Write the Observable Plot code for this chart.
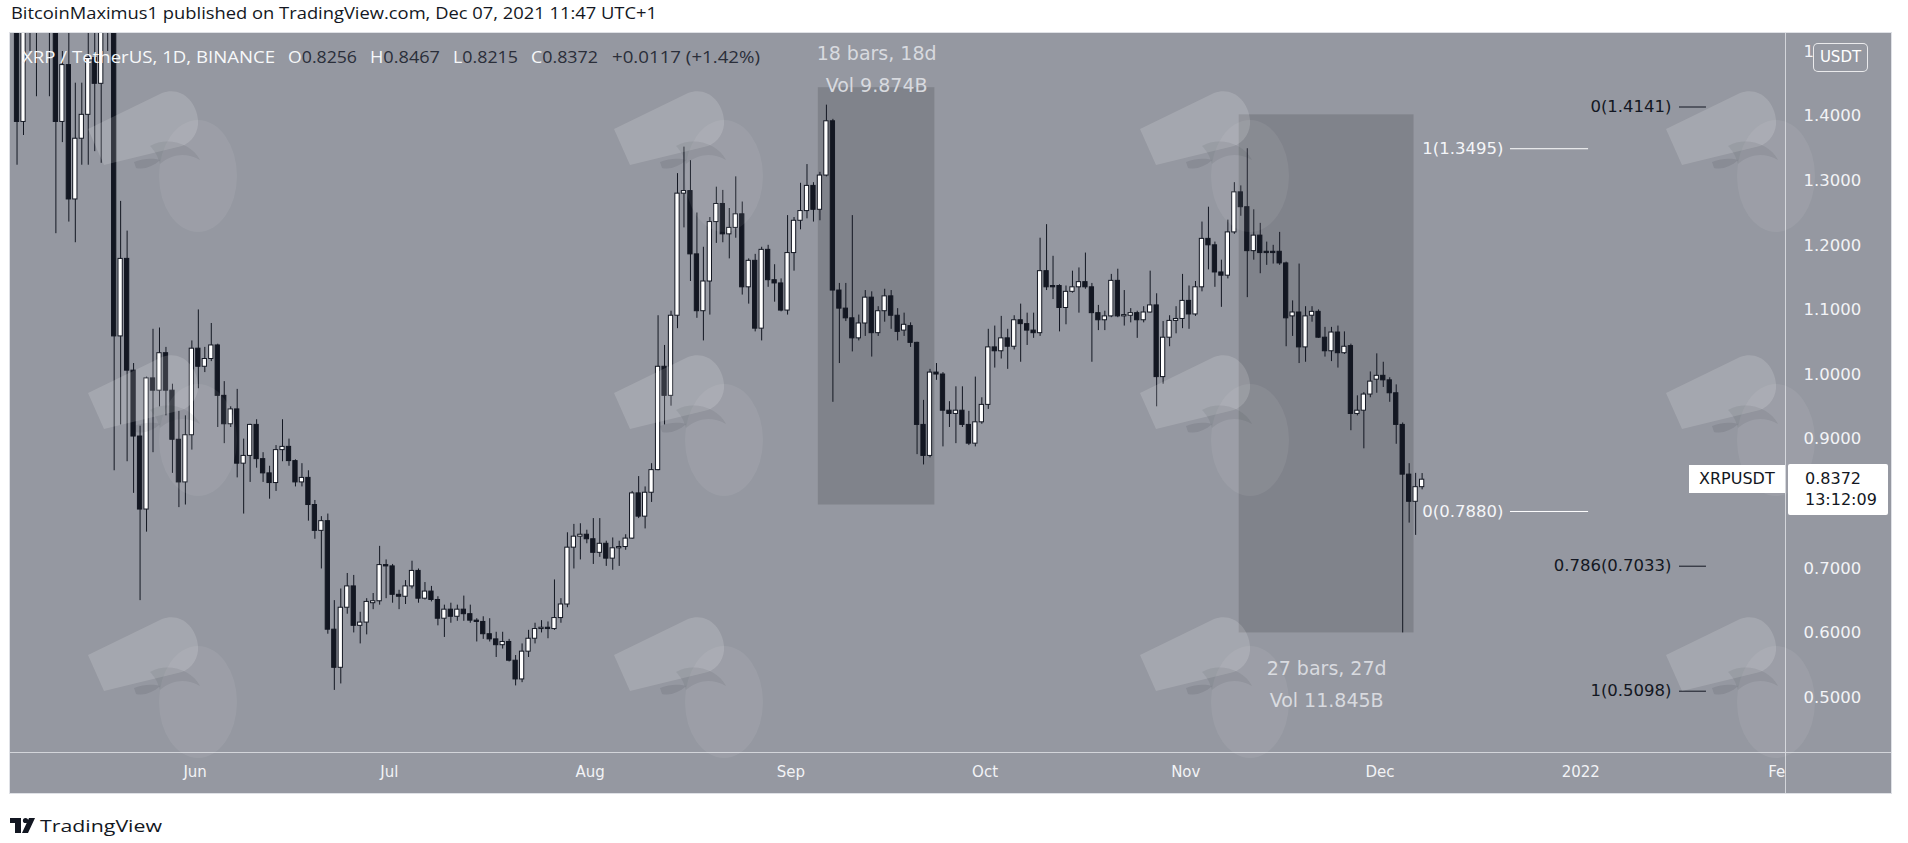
<!DOCTYPE html>
<html>
<head>
<meta charset="utf-8">
<script src="https://cdn.jsdelivr.net/npm/d3@7"></script>
<script src="https://cdn.jsdelivr.net/npm/@observablehq/plot@0.6"></script>
<style>
html,body{margin:0;padding:0;background:#fff;}
body{width:1908px;height:843px;position:relative;overflow:hidden;}
#panel{position:absolute;left:10px;top:33px;width:1881px;height:760px;background:#9598a1;box-shadow:0 0 0 1px #dfe1e6;overflow:hidden;}
#panel > svg{position:absolute;left:0;top:0;}
.tag{position:absolute;background:#fff;color:#131722;font-family:"DejaVu Sans",sans-serif;font-size:16px;box-sizing:border-box;white-space:nowrap;}
#usdt{position:absolute;left:1803px;top:10px;width:55px;height:29px;box-sizing:border-box;border:1px solid rgba(255,255,255,0.8);border-radius:5px;background:#9598a1;color:#fff;font-family:"DejaVu Sans",sans-serif;font-size:15px;line-height:27px;text-align:center;}
</style>
</head>
<body>
<svg id="head" width="1908" height="33" style="position:absolute;left:0;top:0">
  <text x="11" y="18.5" textLength="646" lengthAdjust="spacingAndGlyphs" font-family="Open Sans" font-size="15.5" fill="#131722">BitcoinMaximus1 published on TradingView.com, Dec 07, 2021 11:47 UTC+1</text>
</svg>
<div id="panel"></div>
<svg id="foot" width="200" height="40" style="position:absolute;left:0;top:805px">
  <rect x="10" y="13" width="11" height="5" fill="#131722"/>
  <rect x="15" y="13" width="6" height="15" fill="#131722"/>
  <circle cx="25.5" cy="15.5" r="2.6" fill="#131722"/>
  <path d="M29,13 L35,13 L28,28 L22,28 Z" fill="#131722"/>
  <text x="40" y="26.5" textLength="122" lengthAdjust="spacingAndGlyphs" font-family="Open Sans" font-size="17" fill="#131722">TradingView</text>
</svg>
<script>
// ---- Data: daily OHLC [open, high, low, close] for XRP/USDT, one array per month ----
const mayStart = "2021-05-03";
const may = [
 [1.56,1.63,1.53,1.60],[1.60,1.62,1.324,1.391],[1.391,1.66,1.37,1.61],[1.61,1.72,1.50,1.65],
 [1.65,1.69,1.43,1.56],[1.56,1.64,1.53,1.60],[1.60,1.63,1.43,1.58],[1.58,1.62,1.218,1.391],
 [1.391,1.50,1.359,1.479],[1.479,1.53,1.236,1.271],[1.271,1.451,1.204,1.365],[1.365,1.451,1.324,1.402],
 [1.402,1.53,1.324,1.490],[1.490,1.53,1.345,1.450],[1.450,1.56,1.327,1.540],[1.540,1.60,1.50,1.560],
 [1.560,1.58,0.851,1.059],[1.059,1.268,0.922,1.179],[1.179,1.222,0.865,1.006],[1.006,1.017,0.816,0.904],
 [0.904,0.920,0.650,0.791],[0.791,0.996,0.756,0.994],[0.994,1.070,0.879,0.975],[0.975,1.072,0.950,1.033],
 [1.033,1.042,0.936,0.975],[0.975,0.985,0.847,0.899],[0.899,0.943,0.794,0.833],[0.833,0.936,0.798,0.906],
 [0.906,1.052,0.883,1.040]
];
const jun = [
 [1.040,1.100,0.978,1.012],[1.012,1.042,1.003,1.024],[1.024,1.079,1.020,1.045],[1.045,1.047,0.918,0.967],
 [0.967,0.989,0.893,0.923],[0.923,0.950,0.918,0.946],[0.946,0.977,0.840,0.862],[0.862,0.900,0.784,0.874],
 [0.874,0.923,0.833,0.922],[0.922,0.930,0.855,0.869],[0.869,0.879,0.833,0.847],[0.847,0.858,0.807,0.832],
 [0.832,0.890,0.819,0.883],[0.883,0.930,0.865,0.888],[0.888,0.900,0.858,0.866],[0.866,0.868,0.826,0.833],
 [0.833,0.862,0.826,0.840],[0.840,0.851,0.773,0.798],[0.798,0.805,0.745,0.758],[0.758,0.780,0.699,0.773],
 [0.773,0.784,0.598,0.605],[0.605,0.650,0.511,0.546],[0.546,0.668,0.521,0.639],[0.639,0.692,0.629,0.672],
 [0.672,0.689,0.600,0.611],[0.611,0.632,0.583,0.616],[0.616,0.653,0.597,0.648],[0.646,0.661,0.636,0.649],
 [0.649,0.734,0.643,0.705],[0.705,0.713,0.653,0.703]
];
const jul = [
 [0.703,0.706,0.646,0.659],[0.659,0.666,0.636,0.656],[0.656,0.681,0.644,0.672],[0.672,0.711,0.668,0.696],
 [0.696,0.699,0.646,0.653],[0.653,0.678,0.651,0.664],[0.664,0.672,0.648,0.651],[0.651,0.656,0.611,0.622],
 [0.622,0.643,0.593,0.636],[0.636,0.646,0.615,0.625],[0.625,0.643,0.618,0.636],[0.636,0.657,0.618,0.629],
 [0.629,0.643,0.615,0.619],[0.619,0.622,0.586,0.617],[0.617,0.625,0.590,0.598],[0.598,0.622,0.586,0.590],
 [0.590,0.601,0.562,0.581],[0.581,0.601,0.575,0.586],[0.586,0.590,0.555,0.557],[0.557,0.565,0.518,0.528],
 [0.528,0.583,0.523,0.571],[0.571,0.604,0.562,0.591],[0.591,0.615,0.583,0.606],[0.606,0.619,0.600,0.608],
 [0.608,0.617,0.591,0.606],[0.606,0.682,0.604,0.623],[0.623,0.653,0.615,0.644],[0.644,0.755,0.639,0.732],
 [0.732,0.768,0.699,0.749],[0.749,0.769,0.713,0.752],[0.752,0.759,0.738,0.745]
];
const aug = [
 [0.745,0.777,0.706,0.724],[0.724,0.777,0.717,0.738],[0.738,0.742,0.703,0.715],[0.715,0.747,0.697,0.731],
 [0.731,0.742,0.703,0.733],[0.733,0.752,0.728,0.746],[0.746,0.819,0.745,0.816],[0.816,0.842,0.777,0.780],
 [0.780,0.826,0.761,0.817],[0.817,0.862,0.802,0.852],[0.852,1.091,0.851,1.012],[1.012,1.045,0.922,0.967],
 [0.967,1.098,0.951,1.091],[1.091,1.311,1.071,1.280],[1.280,1.352,1.227,1.284],[1.284,1.331,1.144,1.186],
 [1.186,1.250,1.087,1.098],[1.098,1.197,1.052,1.144],[1.144,1.243,1.092,1.236],[1.236,1.290,1.203,1.264],
 [1.264,1.285,1.204,1.217],[1.217,1.257,1.179,1.227],[1.227,1.306,1.211,1.248],[1.248,1.267,1.123,1.135],
 [1.135,1.179,1.109,1.176],[1.176,1.186,1.066,1.071],[1.071,1.197,1.052,1.193],[1.193,1.200,1.135,1.146],
 [1.146,1.170,1.112,1.141],[1.141,1.148,1.097,1.099],[1.099,1.246,1.092,1.188]
];
const sep = [
 [1.188,1.243,1.160,1.238],[1.238,1.296,1.224,1.253],[1.253,1.325,1.241,1.292],[1.292,1.297,1.236,1.255],
 [1.255,1.313,1.238,1.308],[1.308,1.417,1.306,1.392],[1.392,1.395,0.957,1.130],[1.130,1.141,1.017,1.102],
 [1.102,1.141,1.082,1.087],[1.087,1.246,1.035,1.056],[1.056,1.092,1.052,1.079],[1.079,1.130,1.059,1.119],
 [1.119,1.128,1.027,1.064],[1.064,1.105,1.059,1.098],[1.098,1.132,1.081,1.121],[1.121,1.130,1.070,1.091],
 [1.091,1.102,1.052,1.066],[1.068,1.095,1.059,1.077],[1.075,1.080,1.042,1.049],[1.049,1.050,0.876,0.922],
 [0.922,0.960,0.860,0.874],[0.874,1.008,0.871,1.003],[1.003,1.017,0.991,1.000],[1.000,1.003,0.888,0.944],
 [0.944,0.958,0.918,0.939],[0.939,0.981,0.893,0.944],[0.944,0.981,0.918,0.922],[0.922,0.943,0.890,0.893],
 [0.893,0.996,0.888,0.926],[0.926,0.964,0.923,0.953]
];
const oct = [
 [0.953,1.070,0.946,1.042],[1.042,1.075,1.010,1.036],[1.036,1.090,1.024,1.056],[1.056,1.070,1.008,1.043],
 [1.043,1.091,1.038,1.084],[1.084,1.109,1.019,1.078],[1.078,1.095,1.045,1.068],[1.068,1.095,1.056,1.064],
 [1.064,1.211,1.059,1.160],[1.160,1.232,1.130,1.135],[1.137,1.183,1.116,1.135],[1.137,1.139,1.066,1.103],
 [1.103,1.137,1.077,1.128],[1.128,1.160,1.126,1.135],[1.135,1.165,1.095,1.143],[1.143,1.188,1.132,1.135],
 [1.135,1.141,1.019,1.095],[1.095,1.107,1.068,1.084],[1.084,1.098,1.068,1.090],[1.090,1.155,1.088,1.145],
 [1.145,1.163,1.088,1.090],[1.090,1.130,1.075,1.092],[1.091,1.102,1.080,1.095],[1.095,1.098,1.056,1.084],
 [1.084,1.105,1.080,1.096],[1.096,1.160,1.095,1.107],[1.107,1.125,0.950,0.996],[0.996,1.082,0.985,1.057],
 [1.057,1.091,1.043,1.083],[1.083,1.105,1.063,1.086],[1.086,1.155,1.071,1.114]
];
const nov = [
 [1.114,1.137,1.070,1.093],[1.093,1.144,1.090,1.135],[1.135,1.236,1.128,1.210],[1.210,1.259,1.162,1.200],
 [1.200,1.205,1.135,1.158],[1.158,1.177,1.104,1.153],[1.153,1.239,1.148,1.220],[1.220,1.297,1.217,1.282],
 [1.282,1.292,1.245,1.259],[1.259,1.3495,1.119,1.191],[1.191,1.255,1.177,1.215],[1.215,1.234,1.156,1.188],
 [1.190,1.205,1.169,1.188],[1.190,1.200,1.171,1.188],[1.190,1.220,1.169,1.172],[1.172,1.174,1.043,1.087],
 [1.090,1.114,1.059,1.096],[1.096,1.171,1.017,1.042],[1.042,1.105,1.019,1.090],[1.091,1.105,1.081,1.097],
 [1.097,1.100,1.056,1.057],[1.057,1.073,1.027,1.036],[1.036,1.073,1.020,1.065],[1.065,1.075,1.010,1.033],
 [1.033,1.066,1.031,1.043],[1.044,1.047,0.913,0.939],[0.939,0.967,0.936,0.944],[0.944,0.972,0.885,0.969],
 [0.969,1.004,0.964,0.989],[0.992,1.032,0.971,0.998]
];
const dec = [
 [0.998,1.019,0.980,0.991],[0.991,0.995,0.957,0.971],[0.971,0.984,0.892,0.922],[0.922,0.925,0.600,0.845],
 [0.845,0.862,0.770,0.803],[0.803,0.847,0.751,0.8256],[0.8256,0.8467,0.8215,0.8372]
];
const monthBlocks = [
 [mayStart, may], ["2021-06-01", jun], ["2021-07-01", jul], ["2021-08-01", aug],
 ["2021-09-01", sep], ["2021-10-01", oct], ["2021-11-01", nov], ["2021-12-01", dec]
];

// Date-range measurement boxes
const ranges = [
 {start: "2021-09-05T06:00Z", end: "2021-09-23T06:00Z", top: 1.444, bottom: 0.798, bars: "18 bars, 18d", vol: "Vol 9.874B", side: "top"},
 {start: "2021-11-09T06:00Z", end: "2021-12-06T06:00Z", top: 1.402, bottom: 0.600, bars: "27 bars, 27d", vol: "Vol 11.845B", side: "bottom"}
];
// Fibonacci retracement tools
const fibWhite = [
 {start: "2021-12-21T03:30Z", end: "2022-01-02T05:00Z", price: 1.3495, label: "1(1.3495)"},
 {start: "2021-12-21T03:30Z", end: "2022-01-02T05:00Z", price: 0.7880, label: "0(0.7880)"}
];
const fibBlack = [
 {start: "2022-01-16T06:00Z", end: "2022-01-20T10:00Z", price: 1.4141, label: "0(1.4141)"},
 {start: "2022-01-16T06:00Z", end: "2022-01-20T10:00Z", price: 0.7033, label: "0.786(0.7033)"},
 {start: "2022-01-16T06:00Z", end: "2022-01-20T10:00Z", price: 0.5098, label: "1(0.5098)"}
];
const monthTicks = ["2021-06-01","2021-07-01","2021-08-01","2021-09-01","2021-10-01","2021-11-01","2021-12-01","2022-01-01","2022-02-01"];
// 0.8000 is hidden behind the last-price tag in the reference
const priceTicks = [0.5,0.6,0.7,0.9,1.0,1.1,1.2,1.3,1.4,1.5];
const xDomain = ["2021-05-03T11:46Z", "2022-02-01T14:53Z"];
const yDomain = [0.4149, 1.5279];
const legend = {symbol: "XRP / TetherUS, 1D, BINANCE", O: "0.8256", H: "0.8467", L: "0.8215", C: "0.8372", change: "+0.0117 (+1.42%)"};
const lastTime = "13:12:09";

// ---- build candle table ----
const candles = monthBlocks.flatMap(([start, rows]) => rows.map((r, i) => {
  const date = d3.utcDay.offset(new Date(start + "T00:00Z"), i);
  return {date, next: d3.utcDay.offset(date, 1), mid: d3.utcHour.offset(date, 12),
          open: r[0], high: r[1], low: r[2], close: r[3]};
}));
const P = s => new Date(s);
const rangeRows = ranges.map(d => ({...d, start: P(d.start), end: P(d.end), mid: new Date((+P(d.start) + +P(d.end)) / 2)}));
const fibW = fibWhite.map(d => ({...d, start: P(d.start), end: P(d.end)}));
const fibB = fibBlack.map(d => ({...d, start: P(d.start), end: P(d.end)}));

const W = 1881, H = 760;
const dark = "#131722";
const chart = Plot.plot({
  width: W, height: H,
  marginLeft: 0, marginRight: 106, marginTop: 0, marginBottom: 41,
  style: {background: "transparent", fontFamily: "DejaVu Sans", fontSize: "16px", color: "#f2f3f6", overflow: "visible"},
  x: {type: "utc", domain: xDomain.map(P), ticks: monthTicks.map(s => P(s + "T00:00Z")),
      tickFormat: d => d.getUTCMonth() === 0 ? String(d.getUTCFullYear()) : d3.utcFormat("%b")(d),
      tickSize: 0, tickPadding: 14, label: null},
  y: {domain: yDomain, axis: "right", ticks: priceTicks, tickFormat: d => d.toFixed(4),
      tickSize: 0, tickPadding: 18, label: null},
  marks: [
    Plot.rect(rangeRows, {x1: "start", x2: "end", y1: "bottom", y2: "top", fill: "#80838b"}),
    Plot.ruleX(candles, {x: "mid", y1: "low", y2: "high", stroke: dark, strokeWidth: 1, clip: true}),
    Plot.rect(candles, {x1: "date", x2: "next", y1: "open", y2: "close", insetLeft: 1.1, insetRight: 1.1,
      fill: d => d.close >= d.open ? "#ffffff" : dark, stroke: dark, strokeWidth: 1, clip: true}),
    Plot.text(rangeRows.filter(d => d.side === "top"), {x: "mid", y: "top", text: "bars", dy: -34, fill: "#d8dadf", fontSize: 19}),
    Plot.text(rangeRows.filter(d => d.side === "top"), {x: "mid", y: "top", text: "vol", dy: -2, fill: "#d8dadf", fontSize: 19}),
    Plot.text(rangeRows.filter(d => d.side === "bottom"), {x: "mid", y: "bottom", text: "bars", dy: 36, fill: "#d8dadf", fontSize: 19}),
    Plot.text(rangeRows.filter(d => d.side === "bottom"), {x: "mid", y: "bottom", text: "vol", dy: 68, fill: "#d8dadf", fontSize: 19}),
    Plot.ruleY(fibW, {y: "price", x1: "start", x2: "end", stroke: "#ffffff", strokeWidth: 1}),
    Plot.text(fibW, {x: "start", y: "price", text: "label", textAnchor: "end", dx: -7, fill: "#f4f5f8", fontSize: 16.5}),
    Plot.ruleY(fibB, {y: "price", x1: "start", x2: "end", stroke: dark, strokeWidth: 1}),
    Plot.text(fibB, {x: "start", y: "price", text: "label", textAnchor: "end", dx: -8, fill: dark, fontSize: 16.5})
  ]
});
const panel = document.getElementById("panel");
panel.appendChild(chart);

const svg = d3.select(chart);
const xs = chart.scale("x"), ys = chart.scale("y");
const right = xs.range[1];
const bottom = ys.range[0];
// clip x-axis labels at the price scale
svg.insert("defs", ":first-child").append("clipPath").attr("id", "xclip")
  .append("rect").attr("x", -50).attr("y", -2000).attr("width", right + 50).attr("height", 4000);
svg.selectAll('g[aria-label^="x-axis"]').attr("clip-path", "url(#xclip)");
svg.selectAll('g[aria-label^="x-axis"] text').attr("font-size", 15);
svg.selectAll('g[aria-label^="y-axis"] text').attr("font-size", 16.5);
// separators
svg.append("line").attr("x1", right + 0.5).attr("x2", right + 0.5).attr("y1", 0).attr("y2", H)
  .attr("stroke", "#d3d5da").attr("stroke-width", 1);
svg.append("line").attr("x1", 0).attr("x2", W).attr("y1", bottom + 0.5).attr("y2", bottom + 0.5)
  .attr("stroke", "#d3d5da").attr("stroke-width", 1);

// watermark overlay + legend
const ov = d3.select(panel).append("svg").attr("width", W).attr("height", H).style("pointer-events", "none");
const wmCols = [78, 604, 1130, 1656], wmRows = [59, 323, 585];
for (const cx of wmCols) for (const cy of wmRows) {
  const g = ov.append("g").attr("transform", `translate(${cx},${cy})`);
  // body (large rounded shape)
  g.append("ellipse").attr("cx", 110).attr("cy", 84).attr("rx", 39).attr("ry", 56).attr("fill", "rgba(255,255,255,0.065)");
  // head band with rounded crown
  g.append("path").attr("d", "M0,37 L74,1 C92,-6 108,8 110,28 C111,40 104,50 94,54 L16,73 Z").attr("fill", "rgba(255,255,255,0.15)");
  // beak / eye shading
  g.append("path").attr("d", "M62,54 C80,44 104,52 112,68 C98,60 84,62 72,72 C70,64 66,58 62,54 Z").attr("fill", "rgba(19,23,34,0.07)");
  g.append("path").attr("d", "M46,70 C56,66 66,66 72,68 C66,74 56,78 48,76 Z").attr("fill", "rgba(19,23,34,0.09)");
}
const lg = ov.append("g").attr("font-family", "Open Sans").attr("font-size", 15.5);
lg.append("text").attr("x", 12).attr("y", 30).attr("textLength", 253).attr("lengthAdjust", "spacingAndGlyphs")
  .attr("fill", "#f7f8fa").text(legend.symbol);
const parts = [["O", legend.O, 278, 69], ["H", legend.H, 360, 70], ["L", legend.L, 443, 65], ["C", legend.C, 521, 67]];
for (const [k, v, x, len] of parts) {
  const t = lg.append("text").attr("x", x).attr("y", 30).attr("textLength", len).attr("lengthAdjust", "spacingAndGlyphs");
  t.append("tspan").attr("fill", "#f7f8fa").text(k);
  t.append("tspan").attr("fill", "#2a2e39").text(v);
}
lg.append("text").attr("x", 602).attr("y", 30).attr("textLength", 148).attr("lengthAdjust", "spacingAndGlyphs")
  .attr("fill", "#2a2e39").text(legend.change);

// last price labels
const last = candles[candles.length - 1];
const yLast = ys.apply(last.close);
const t1 = document.createElement("div");
t1.className = "tag";
Object.assign(t1.style, {left: (right - 96) + "px", top: (yLast - 14) + "px", width: "96px", height: "28px", lineHeight: "28px", paddingLeft: "10px"});
t1.textContent = "XRPUSDT";
panel.appendChild(t1);
const t2 = document.createElement("div");
t2.className = "tag";
Object.assign(t2.style, {left: (right + 3) + "px", top: (yLast - 15) + "px", width: "100px", height: "51px", lineHeight: "21px", paddingLeft: "17px", paddingTop: "4px", borderRadius: "2px"});
t2.innerHTML = last.close.toFixed(4) + "<br>" + lastTime;
panel.appendChild(t2);
const u = document.createElement("div");
u.id = "usdt"; u.textContent = "USDT";
panel.appendChild(u);
</script>
</body>
</html>
